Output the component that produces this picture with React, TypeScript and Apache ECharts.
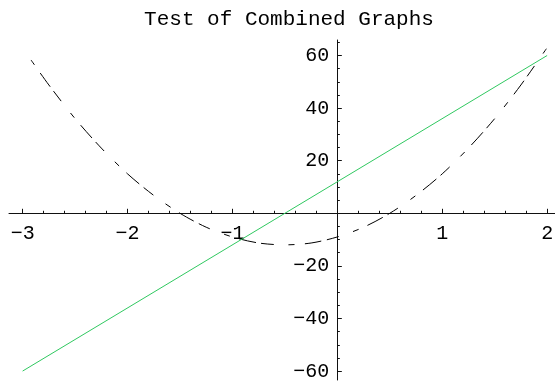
import React, { useEffect, useRef } from "react";
import * as echarts from "echarts";

const TITLE = "Test of Combined Graphs";

const X_MAJOR = [-3, -2, -1, 1, 2];
const X_MINOR = [
  -3, -2.8, -2.6, -2.4, -2.2, -2, -1.8, -1.6, -1.4, -1.2, -1, -0.8, -0.6, -0.4, -0.2,
  0.2, 0.4, 0.6, 0.8, 1, 1.2, 1.4, 1.6, 1.8, 2,
];
const Y_MAJOR = [-60, -40, -20, 20, 40, 60];
const Y_MINOR = [
  -60, -55, -50, -45, -40, -35, -30, -25, -20, -15, -10, -5, 5, 10, 15, 20, 25, 30, 35,
  40, 45, 50, 55, 60, 65,
];

const LINE_X = [-3, 2];
const LINE_Y = [-60, 60];

const CURVE_X = [
  -2.92, -2.75, -2.5, -2.25, -2, -1.75, -1.5, -1.25, -1, -0.75, -0.5, -0.25, 0, 0.25, 0.5,
  0.75, 1, 1.25, 1.5, 1.75, 2,
];
const CURVE_Y = [
  58.3, 48.8, 36, 24.8, 15, 6.8, 0, -5.3, -9, -11.3, -12, -11.3, -9, -5.3, 0, 6.8, 15,
  24.8, 36, 48.8, 63,
];

const FONT = "Liberation Mono";
const AXIS_COLOR = "#111";

// plot geometry
const X_MIN = -3.13;
const X_MAX = 2.075;
const Y_MIN = -63.4;
const Y_MAX = 65.9;
const G_LEFT = 9;
const G_TOP = 40;
const G_W = 546;
const G_H = 340;
const W = 555;
const H = 383;

const fmt = (v: number) => (v < 0 ? "\u2212" + String(-v) : String(v));

export default function App() {
  const ref = useRef<HTMLDivElement>(null);
  useEffect(() => {
    if (!ref.current) return;
    const chart = echarts.init(ref.current, undefined, { renderer: "svg" });
    const zeroXpx = (G_W * (0 - X_MIN)) / (X_MAX - X_MIN); // from grid left
    const zeroYpx = (G_H * (Y_MAX - 0)) / (Y_MAX - Y_MIN); // from grid top
    const xOffset = -(G_H - zeroYpx);
    const yOffset = -zeroXpx;
    const baseX = {
      type: "value",
      min: X_MIN,
      max: X_MAX,
      position: "bottom",
      offset: xOffset,
      splitLine: { show: false },
      axisLine: { show: true, onZero: false, lineStyle: { color: AXIS_COLOR, width: 1 } },
    };
    const baseY = {
      type: "value",
      min: Y_MIN,
      max: Y_MAX,
      position: "left",
      offset: yOffset,
      splitLine: { show: false },
      axisLine: { show: true, onZero: false, lineStyle: { color: AXIS_COLOR, width: 1 } },
    };
    const hiddenLine = { show: true, onZero: false, lineStyle: { color: "rgba(0,0,0,0)", width: 1 } };
    chart.setOption({
      animation: false,
      title: {
        text: TITLE,
        left: 284,
        top: 4,
        textAlign: "center",
        textStyle: { fontFamily: FONT, fontWeight: "normal", fontSize: 21, color: "#000" },
      },
      grid: {
        left: G_LEFT,
        top: G_TOP,
        right: W - G_LEFT - G_W,
        bottom: H - G_TOP - G_H,
        containLabel: false,
        outerBoundsMode: "none",
      },
      xAxis: [
        {
          ...baseX,
          axisTick: { show: true, inside: true, length: 4.5, customValues: X_MAJOR, lineStyle: { color: AXIS_COLOR } },
          axisLabel: {
            show: true,
            customValues: X_MAJOR,
            formatter: fmt,
            margin: 10,
            fontFamily: FONT,
            fontSize: 20,
            color: "#000",
          },
        },
        {
          ...baseX,
          axisLine: hiddenLine,
          axisTick: { show: true, inside: true, length: 2.5, customValues: X_MINOR, lineStyle: { color: AXIS_COLOR } },
          axisLabel: { show: false },
        },
      ],
      yAxis: [
        {
          ...baseY,
          axisTick: { show: true, inside: true, length: 4.5, customValues: Y_MAJOR, lineStyle: { color: AXIS_COLOR } },
          axisLabel: {
            show: true,
            customValues: Y_MAJOR,
            formatter: fmt,
            margin: 8,
            fontFamily: FONT,
            fontSize: 20,
            color: "#000",
          },
        },
        {
          ...baseY,
          axisLine: hiddenLine,
          axisTick: { show: true, inside: true, length: 2.5, customValues: Y_MINOR, lineStyle: { color: AXIS_COLOR } },
          axisLabel: { show: false },
        },
      ],
      series: [
        {
          type: "line",
          xAxisIndex: 0,
          yAxisIndex: 0,
          data: CURVE_X.map((x, i) => [x, CURVE_Y[i]]),
          smooth: 0.3,
          symbol: "none",
          lineStyle: { color: "#000", width: 1, type: [6, 10, 17, 5.5, 12.5, 15] },
          z: 3,
        },
        {
          type: "line",
          xAxisIndex: 0,
          yAxisIndex: 0,
          data: LINE_X.map((x, i) => [x, LINE_Y[i]]),
          symbol: "none",
          lineStyle: { color: "#30c860", width: 1 },
          z: 4,
        },
      ],
    });
    return () => chart.dispose();
  }, []);
  return <div ref={ref} style={{ position: "fixed", left: 0, top: 0, width: W, height: H }} />;
}
